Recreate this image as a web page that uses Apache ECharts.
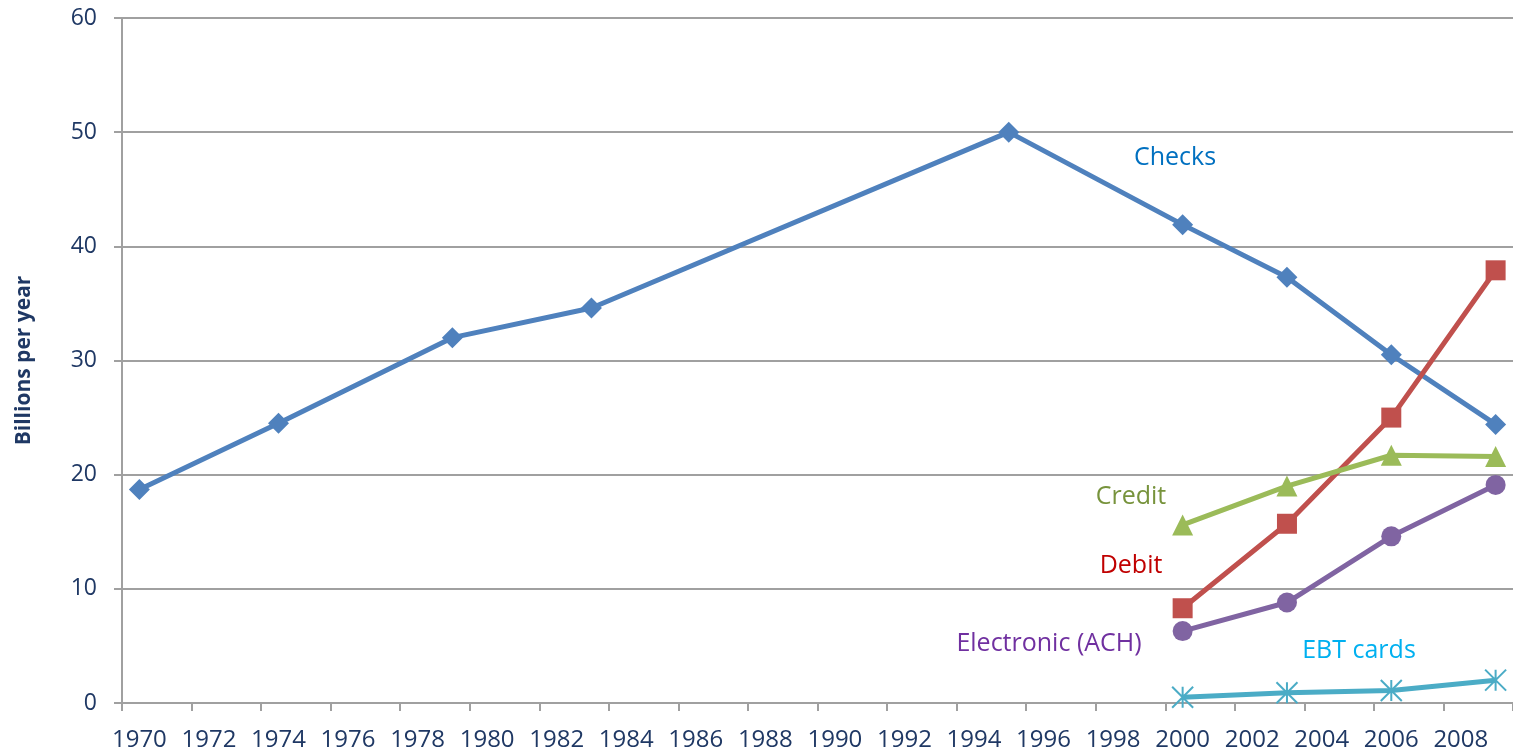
<!DOCTYPE html>
<html>
<head>
<meta charset="utf-8">
<script src="https://cdn.jsdelivr.net/npm/echarts@6/dist/echarts.min.js"></script>
<style>
html,body{margin:0;padding:0;background:#fff;}
#chart{width:1513px;height:752px;}
</style>
</head>
<body>
<div id="chart"></div>
<script>
// Categories: every year 1970..2009
const years = [];
for (let y = 1970; y <= 2009; y++) years.push(String(y));

const checksYears = [1970, 1974, 1979, 1983, 1995, 2000, 2003, 2006, 2009];
const checksValues = [18.7, 24.5, 32.0, 34.6, 50.0, 41.9, 37.3, 30.5, 24.4];

const studyYears = [2000, 2003, 2006, 2009];
const debitValues = [8.3, 15.7, 25.0, 37.9];
const creditValues = [15.6, 19.0, 21.7, 21.6];
const achValues = [6.3, 8.8, 14.6, 19.1];
const ebtValues = [0.5, 0.9, 1.1, 2.0];

const yTicks = [0, 10, 20, 30, 40, 50, 60];

function pairs(ys, vs) { return ys.map((y, i) => [String(y), vs[i]]); }

const textColor = '#1f3864';
const gridColor = '#a0a0a0';
const font = '"Open Sans", "DejaVu Sans", sans-serif';
const annFont = '25px "Open Sans", sans-serif';

function lineSeries(name, data, color, symbol, size, extra) {
  return Object.assign({
    name, type: 'line', data,
    symbol, symbolSize: size,
    lineStyle: { color, width: 5 },
    itemStyle: { color },
    animation: false,
    z: 3
  }, extra || {});
}

const chart = echarts.init(document.getElementById('chart'));
chart.setOption({
  backgroundColor: '#fff',
  animation: false,
  grid: { left: 122, top: 18, bottom: 48, right: -4, containLabel: false },
  xAxis: {
    type: 'category',
    data: years,
    boundaryGap: true,
    axisLine: { show: true, lineStyle: { color: gridColor, width: 2 } },
    axisTick: { show: true, interval: 1, length: 8, lineStyle: { color: gridColor, width: 2 } },
    axisLabel: { interval: 1, color: textColor, fontSize: 24, fontFamily: font, margin: 25 },
    splitLine: { show: false }
  },
  yAxis: {
    type: 'value',
    min: yTicks[0], max: yTicks[yTicks.length - 1], interval: 10,
    name: 'Billions per year',
    nameLocation: 'middle',
    nameGap: 87,
    nameTextStyle: { color: textColor, fontSize: 21, fontWeight: 'bold', fontFamily: font },
    axisLine: { show: true, lineStyle: { color: gridColor, width: 2 } },
    axisTick: { show: true, length: 8, lineStyle: { color: gridColor, width: 2 } },
    axisLabel: { color: textColor, fontSize: 23, fontFamily: font, margin: 25 },
    splitLine: { show: true, lineStyle: { color: gridColor, width: 2 } }
  },
  series: [
    lineSeries('Checks', pairs(checksYears, checksValues), '#4f81bd', 'diamond', 21),
    lineSeries('Debit', pairs(studyYears, debitValues), '#c0504d', 'rect', 20),
    lineSeries('Credit', pairs(studyYears, creditValues), '#9bbb59', 'triangle', 21),
    lineSeries('Electronic (ACH)', pairs(studyYears, achValues), '#8064a2', 'circle', 20),
    lineSeries('EBT cards', pairs(studyYears, ebtValues), '#4bacc6',
      'path://M0 0L20 20M20 0L0 20M10 0L10 20', 21,
      { itemStyle: { color: 'rgba(0,0,0,0)', borderColor: '#4bacc6', borderWidth: 2 } })
  ],
  graphic: [
    { type: 'text', x: 1175, y: 158, style: { text: 'Checks', fill: '#0070c0', font: annFont, align: 'center', verticalAlign: 'middle' } },
    { type: 'text', x: 1131, y: 497, style: { text: 'Credit', fill: '#77933c', font: annFont, align: 'center', verticalAlign: 'middle' } },
    { type: 'text', x: 1131, y: 566, style: { text: 'Debit', fill: '#c00000', font: annFont, align: 'center', verticalAlign: 'middle' } },
    { type: 'text', x: 1049, y: 644, style: { text: 'Electronic (ACH)', fill: '#7030a0', font: annFont, align: 'center', verticalAlign: 'middle' } },
    { type: 'text', x: 1359, y: 651, style: { text: 'EBT cards', fill: '#00b0f0', font: annFont, align: 'center', verticalAlign: 'middle' } }
  ]
});
</script>
</body>
</html>
